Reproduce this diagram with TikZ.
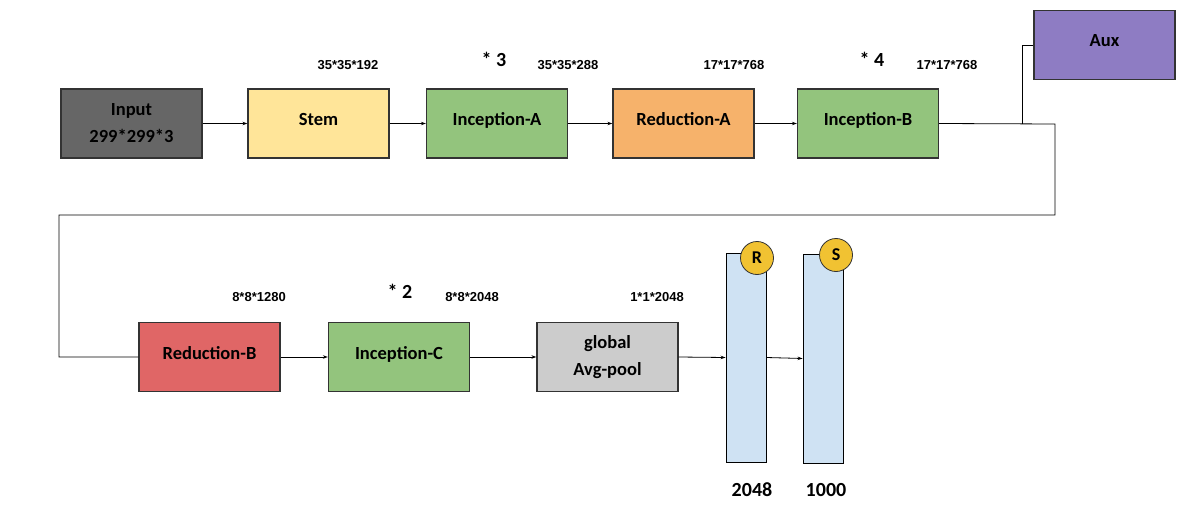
\documentclass[tikz,border=0pt]{standalone}
\usepackage{fontspec}
\setmainfont{Carlito}
\newfontfamily\dimfont{Liberation Sans}
\usetikzlibrary{arrows.meta}
\definecolor{cInput}{HTML}{666666}
\definecolor{cStem}{HTML}{FFE599}
\definecolor{cGreen}{HTML}{93C47D}
\definecolor{cOrange}{HTML}{F6B26B}
\definecolor{cRed}{HTML}{E06666}
\definecolor{cGray}{HTML}{CCCCCC}
\definecolor{cPurple}{HTML}{8E7CC3}
\definecolor{cBlue}{HTML}{CFE2F3}
\definecolor{cYellow}{HTML}{F1C232}
\tikzset{
  blk/.style={draw=black!80, line width=1.3pt, minimum width=141pt, minimum height=69pt,
    inner sep=0pt, align=center, font=\bfseries\fontsize{18.5}{23}\selectfont},
  dimlbl/.style={font=\dimfont\bfseries\fontsize{13}{14}\selectfont, inner sep=0pt},
  mult/.style={font=\bfseries\fontsize{20}{22}\selectfont, inner sep=0pt},
  bar/.style={draw=black, line width=0.9pt, fill=cBlue, minimum width=40pt, minimum height=209pt, inner sep=0pt},
  badge/.style={circle, draw=black!80, line width=0.8pt, fill=cYellow, minimum size=33pt, inner sep=0pt,
    font=\bfseries\fontsize{18}{18}\selectfont},
  arr/.style={line width=0.8pt, -{Stealth[length=5pt,width=3.5pt]}},
  ln/.style={line width=0.8pt},
  bottomlbl/.style={font=\bfseries\fontsize{20}{20}\selectfont, inner sep=0pt}
}
\begin{document}
\begin{tikzpicture}[x=1pt,y=-1pt]
\useasboundingbox[fill=white] (0,0) rectangle (1199,524);
% top row
\node[blk, fill=cInput] (input) at (131.5,123.5) {Input\\[4pt]299*299*3};
\node[blk, fill=cStem] (stem) at (318.5,123.5) {\raisebox{9pt}{Stem}};
\node[blk, fill=cGreen] (inca) at (497,123.5) {\raisebox{9pt}{Inception-A}};
\node[blk, fill=cOrange] (reda) at (683.5,123.5) {\raisebox{9pt}{Reduction-A}};
\node[blk, fill=cGreen] (incb) at (868,123.5) {\raisebox{9pt}{Inception-B}};
\node[blk, fill=cPurple] (aux) at (1104.5,45) {\raisebox{9pt}{Aux}};
% top labels
\node[dimlbl] (d1) at (348,65) {35*35*192};
\node[mult] (m3) at (494,59) {* 3};
\node[dimlbl] (d2) at (568,65) {35*35*288};
\node[dimlbl] (d3) at (734,65) {17*17*768};
\node[mult] (m4) at (872,59) {* 4};
\node[dimlbl] (d4) at (947,65) {17*17*768};
% bottom row
\node[blk, fill=cRed] (redb) at (209.5,357) {\raisebox{9pt}{Reduction-B}};
\node[blk, fill=cGreen] (incc) at (399,357) {\raisebox{9pt}{Inception-C}};
\node[blk, fill=cGray] (pool) at (607.5,357) {global\\[4pt]Avg-pool};
\node[dimlbl] (d5) at (259,297) {8*8*1280};
\node[mult] (m2) at (400,291) {* 2};
\node[dimlbl] (d6) at (472,297) {8*8*2048};
\node[dimlbl] (d7) at (657,297) {1*1*2048};
% bars
\node[bar] (rbar) at (746,357.5) {};
\node[bar] (sbar) at (823,358.5) {};
\node[badge] (rb) at (757,258) {R};
\node[badge] (sb) at (836,255) {S};
\node[bottomlbl] (l1) at (752,490) {2048};
\node[bottomlbl] (l2) at (826,490) {1000};
% connectors
\draw[arr] (input) -- (stem);
\draw[arr] (stem) -- (inca);
\draw[arr] (inca) -- (reda);
\draw[arr] (reda) -- (incb);
\coordinate (j1) at (1022,124);
\coordinate (c1) at (1055,124);
\coordinate (c2) at (1055,215);
\coordinate (c3) at (59,215);
\draw[ln] (incb.east) -- (c1) -- (c2) -- (c3) |- (redb.west);
\draw[ln] (j1) |- (aux.west);
\draw[arr] (redb) -- (incc);
\draw[arr] (incc) -- (pool);
\draw[arr] (pool.east) -- (rbar.west);
\draw[arr] (rbar.east) -- (sbar.west);
\end{tikzpicture}
\end{document}
